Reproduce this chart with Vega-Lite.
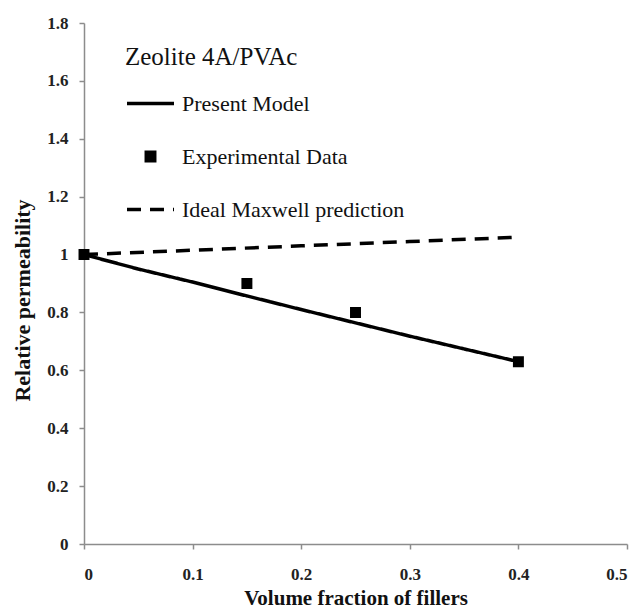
{
  "$schema": "https://vega.github.io/schema/vega-lite/v6.json",
  "autosize": "none",
  "width": 543,
  "height": 521,
  "padding": {"left": 84, "top": 23, "right": 13, "bottom": 66},
  "background": "white",
  "datasets": {
    "lines": [
      {"x": 0, "y": 1.0, "series": "Present Model"},
      {"x": 0.05, "y": 0.95, "series": "Present Model"},
      {"x": 0.1, "y": 0.905, "series": "Present Model"},
      {"x": 0.15, "y": 0.857, "series": "Present Model"},
      {"x": 0.2, "y": 0.81, "series": "Present Model"},
      {"x": 0.25, "y": 0.764, "series": "Present Model"},
      {"x": 0.3, "y": 0.718, "series": "Present Model"},
      {"x": 0.35, "y": 0.674, "series": "Present Model"},
      {"x": 0.4, "y": 0.63, "series": "Present Model"},
      {"x": 0, "y": 1.0, "series": "Ideal Maxwell prediction"},
      {"x": 0.1, "y": 1.015, "series": "Ideal Maxwell prediction"},
      {"x": 0.2, "y": 1.03, "series": "Ideal Maxwell prediction"},
      {"x": 0.3, "y": 1.045, "series": "Ideal Maxwell prediction"},
      {"x": 0.4, "y": 1.06, "series": "Ideal Maxwell prediction"}
    ],
    "points": [
      {"x": 0, "y": 1.0, "series": "Experimental Data"},
      {"x": 0.15, "y": 0.9, "series": "Experimental Data"},
      {"x": 0.25, "y": 0.8, "series": "Experimental Data"},
      {"x": 0.4, "y": 0.63, "series": "Experimental Data"}
    ]
  },
  "config": {
    "view": {"stroke": null},
    "axis": {
      "grid": false,
      "domainColor": "#8c8c8c",
      "domainWidth": 1.5,
      "tickColor": "#8c8c8c",
      "tickWidth": 1.5,
      "tickSize": 5,
      "labelFont": "Liberation Serif",
      "labelFontWeight": "bold",
      "labelFontSize": 17,
      "labelColor": "#222222",
      "titleFont": "Liberation Serif",
      "titleFontWeight": "bold",
      "titleFontSize": 21,
      "titleColor": "#111111"
    },
    "legend": {
      "orient": "none",
      "legendX": 41,
      "legendY": 22,
      "padding": 0,
      "symbolSize": 2209,
      "symbolStrokeWidth": 3.5,
      "labelFont": "Liberation Serif",
      "labelFontSize": 22,
      "labelColor": "#111111",
      "labelOffset": 6,
      "rowPadding": 16,
      "titleFont": "Liberation Serif",
      "titleFontSize": 25,
      "titleFontWeight": "normal",
      "titleColor": "#111111",
      "titlePadding": 8,
      "titleLimit": 400,
      "labelLimit": 400
    }
  },
  "encoding": {
    "x": {
      "field": "x",
      "type": "quantitative",
      "title": "Volume fraction of fillers",
      "scale": {"domain": [0, 0.5], "nice": false},
      "axis": {"values": [0, 0.1, 0.2, 0.3, 0.4, 0.5], "format": "~g", "labelPadding": 17, "titlePadding": 5}
    },
    "y": {
      "field": "y",
      "type": "quantitative",
      "title": "Relative permeability",
      "scale": {"domain": [0, 1.8], "nice": false},
      "axis": {"values": [0, 0.2, 0.4, 0.6, 0.8, 1, 1.2, 1.4, 1.6, 1.8], "format": "~g", "labelPadding": 11, "titlePadding": 12, "titleY": 277, "titleFontSize": 22}
    }
  },
  "layer": [
    {
      "data": {"name": "lines"},
      "mark": {"type": "line", "strokeWidth": 3.5},
      "encoding": {
        "color": {
          "field": "series",
          "type": "nominal",
          "title": "Zeolite 4A/PVAc",
          "scale": {"domain": ["Present Model", "Experimental Data", "Ideal Maxwell prediction"], "range": ["black", "black", "black"]}
        },
        "strokeDash": {
          "field": "series",
          "type": "nominal",
          "title": "Zeolite 4A/PVAc",
          "scale": {"domain": ["Present Model", "Experimental Data", "Ideal Maxwell prediction"], "range": [[1, 0], [1, 0], [14, 9]]}
        }
      }
    },
    {
      "data": {"name": "points"},
      "mark": {"type": "point", "filled": true, "opacity": 1, "size": 2209, "stroke": "black", "strokeWidth": 2.5},
      "encoding": {
        "color": {
          "field": "series",
          "type": "nominal",
          "title": "Zeolite 4A/PVAc",
          "scale": {"domain": ["Present Model", "Experimental Data", "Ideal Maxwell prediction"], "range": ["black", "black", "black"]}
        },
        "shape": {
          "field": "series",
          "type": "nominal",
          "title": "Zeolite 4A/PVAc",
          "scale": {"domain": ["Present Model", "Experimental Data", "Ideal Maxwell prediction"], "range": ["M-1,0H1", "M-0.18,-0.18H0.18V0.18H-0.18Z", "M-1,0H1"]}
        }
      }
    }
  ]
}
